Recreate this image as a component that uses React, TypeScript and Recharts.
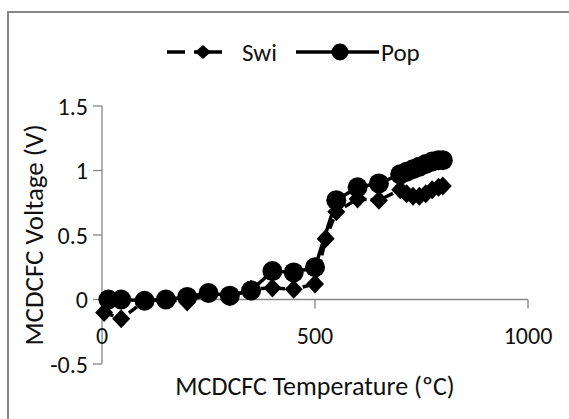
import { LineChart, Line, XAxis, YAxis, ReferenceLine } from 'recharts'

// Swi series (dashed, diamonds)
const swiTemp = [5, 45, 100, 150, 200, 250, 300, 350, 400, 450, 500, 525, 550, 600, 650, 700, 715, 730, 745, 760, 775, 790, 800]
const swiVolt = [-0.1, -0.15, -0.01, 0.0, -0.02, 0.05, 0.02, 0.08, 0.09, 0.08, 0.12, 0.47, 0.68, 0.78, 0.77, 0.85, 0.82, 0.8, 0.8, 0.82, 0.85, 0.87, 0.88]

// Pop series (solid, circles)
const popTemp = [15, 45, 100, 150, 200, 250, 300, 350, 400, 450, 500, 550, 600, 650, 700, 715, 730, 745, 760, 775, 790, 800]
const popVolt = [0.0, 0.0, -0.01, 0.0, 0.02, 0.05, 0.03, 0.07, 0.22, 0.21, 0.25, 0.77, 0.87, 0.9, 0.97, 0.99, 1.01, 1.03, 1.05, 1.07, 1.08, 1.08]

const xTicks = [0, 500, 1000]
const yTicks = [-0.5, 0, 0.5, 1, 1.5]

const swiData = swiTemp.map((t, i) => ({ t, v: swiVolt[i] }))
const popData = popTemp.map((t, i) => ({ t, v: popVolt[i] }))

const FONT = 'Carlito, Calibri, Lato, sans-serif'
const AXIS = '#868686'
const INK = '#111'
const TICK_FS = 24
const TITLE_FS = 26
const LEGEND_FS = 25

function Diamond(props: any) {
  const { cx, cy, index } = props
  if (cx == null || cy == null) return null
  return (
    <path
      key={`d-${index}`}
      d={`M${cx},${cy - 9.5}L${cx + 9},${cy}L${cx},${cy + 9.5}L${cx - 9},${cy}Z`}
      fill="#000"
    />
  )
}

function XTick(props: any) {
  const { x, y, payload } = props
  return (
    <text
      x={x}
      y={y - 29}
      textAnchor="middle"
      dominantBaseline="central"
      fill={INK}
      fontSize={TICK_FS}
      fontFamily={FONT}
    >
      {payload.value}
    </text>
  )
}

function ChartLegend() {
  return (
    <svg width={569} height={90} style={{ position: 'absolute', left: 0, top: 0 }}>
      <line x1={167} y1={52} x2={185} y2={52} stroke="#000" strokeWidth={3.5} />
      <line x1={194} y1={52} x2={222} y2={52} stroke="#000" strokeWidth={3.5} />
      <path d="M203,45L211,52L203,59L195,52Z" fill="#000" />
      <text x={242} y={52} dominantBaseline="central" fontSize={LEGEND_FS} fontFamily={FONT} fill={INK}>Swi</text>
      <line x1={296} y1={52} x2={379} y2={52} stroke="#000" strokeWidth={3.5} />
      <circle cx={340} cy={52} r={8.5} fill="#000" />
      <text x={381} y={52} dominantBaseline="central" fontSize={LEGEND_FS} fontFamily={FONT} fill={INK}>Pop</text>
    </svg>
  )
}

export default function App() {
  return (
    <div style={{ position: 'absolute', left: 0, top: 0, width: 569, height: 419, background: '#fff' }}>
      <div
        style={{
          position: 'absolute',
          left: 7,
          top: 11,
          width: 562,
          height: 408,
          borderLeft: `2px solid ${AXIS}`,
          borderTop: `2px solid ${AXIS}`,
          boxSizing: 'border-box'
        }}
      />
      <ChartLegend />
      <div style={{ position: 'absolute', left: 0, top: 0 }}>
        <LineChart width={569} height={419} margin={{ top: 106, right: 41, bottom: 15, left: 42 }}>
          <XAxis
            type="number"
            dataKey="t"
            domain={[0, 1000]}
            ticks={xTicks}
            axisLine={false}
            tickLine={false}
            tickSize={0}
            tickMargin={0}
            height={40}
            tick={<XTick />}
            label={{
              value: 'MCDCFC Temperature (ºC)',
              position: 'insideBottom',
              offset: 9,
              fill: INK,
              fontSize: TITLE_FS,
              fontFamily: FONT
            }}
          />
          <YAxis
            type="number"
            domain={[-0.5, 1.5]}
            ticks={yTicks}
            width={60}
            tickSize={9}
            tickMargin={5}
            axisLine={{ stroke: AXIS, strokeWidth: 1.3 }}
            tickLine={{ stroke: AXIS, strokeWidth: 1.3 }}
            tick={{ fill: INK, fontSize: TICK_FS, fontFamily: FONT }}
            label={{
              value: 'MCDCFC Voltage (V)',
              angle: -90,
              position: 'left',
              offset: 9,
              fill: INK,
              fontSize: 27,
              fontFamily: FONT,
              style: { textAnchor: 'middle' }
            }}
          />
          <ReferenceLine y={0} stroke={AXIS} strokeWidth={1.3} />
          {xTicks.map((t) => (
            <ReferenceLine
              key={`xt-${t}`}
              segment={[{ x: t, y: 0 }, { x: t, y: -0.07 }]}
              stroke={AXIS}
              strokeWidth={1.3}
            />
          ))}
          <Line
            data={swiData}
            dataKey="v"
            name="Swi"
            stroke="#000"
            strokeWidth={3.5}
            strokeDasharray="10 4"
            dot={<Diamond />}
            activeDot={false}
            isAnimationActive={false}
          />
          <Line
            data={popData}
            dataKey="v"
            name="Pop"
            stroke="#000"
            strokeWidth={3.5}
            dot={{ r: 10, fill: '#000', stroke: 'none' }}
            activeDot={false}
            isAnimationActive={false}
          />
        </LineChart>
      </div>
    </div>
  )
}
